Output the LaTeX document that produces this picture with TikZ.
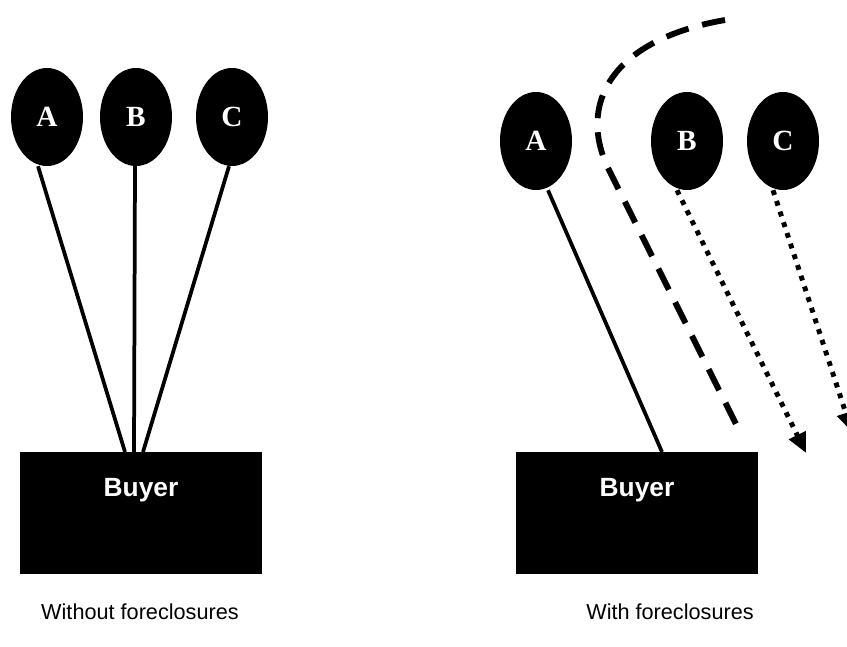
\documentclass[tikz,border=0pt]{standalone}
\usepackage{fontspec}
\setmainfont{Liberation Sans}
\newfontfamily\letterfont{Liberation Serif}
\usetikzlibrary{positioning,arrows.meta,shapes.geometric}

\begin{document}
\begin{tikzpicture}[
    x=0.03cm, y=-0.03cm,
    firm/.style={ellipse,fill=black,text=white,inner sep=0pt,minimum width=2.16cm,minimum height=2.94cm,font=\letterfont\fontsize{25}{25}\selectfont\bfseries},
    buyer/.style={rectangle,fill=black,text=white,inner sep=0pt,minimum width=7.26cm,text height=1.335cm,text depth=2.325cm,font=\fontsize{22.5}{22.5}\selectfont\bfseries},
    caption/.style={font=\fontsize{18.5}{18.5}\selectfont},
    link/.style={line width=3.2pt},
    lost/.style={line width=4.2pt,dash pattern=on 4.2pt off 5.4pt,-{Triangle[length=17pt,width=15pt]}},
    switch/.style={line width=5pt,dash pattern=on 20pt off 12pt}
  ]
  \useasboundingbox (0,0) rectangle (847,646);
  % without foreclosures
  \node[firm] (lA) at (47,117)  {A};
  \node[firm] (lB) at (136,117) {B};
  \node[firm] (lC) at (232,117) {C};
  \node[buyer,anchor=north] (lbuy) at (141,452) {Buyer};
  \node[caption] (lcap) at (140,612) {Without foreclosures};
  \draw[link] ([xshift=-0.27cm]lA.south) -- ([xshift=-0.48cm]lbuy.north);
  \draw[link] ([xshift=-0.03cm]lB.south) -- ([xshift=-0.21cm]lbuy.north);
  \draw[link] ([xshift=-0.09cm]lC.south) -- ([xshift=0.06cm]lbuy.north);
  % with foreclosures
  \node[firm] (rA) at (536,141) {A};
  \node[firm] (rB) at (687,141) {B};
  \node[firm] (rC) at (783,141) {C};
  \node[buyer,anchor=north] (rbuy) at (637,452) {Buyer};
  \node[caption] (rcap) at (670,612) {With foreclosures};
  \coordinate (tipB) at (806,453);
  \coordinate (tipC) at (852,432);
  \coordinate (dashtop) at (725,20);
  \coordinate (dashend) at (740,432);
  \draw[link] ([xshift=0.36cm]rA.south) -- ([xshift=0.75cm]rbuy.north);
  \draw[lost] ([xshift=-0.3cm]rB.south) -- (tipB);
  \draw[lost] ([xshift=-0.3cm]rC.south) -- (tipC);
  \draw[switch] (dashtop) .. controls (610,40) and (578,105) .. (608,168) -- (dashend);
\end{tikzpicture}
\end{document}
